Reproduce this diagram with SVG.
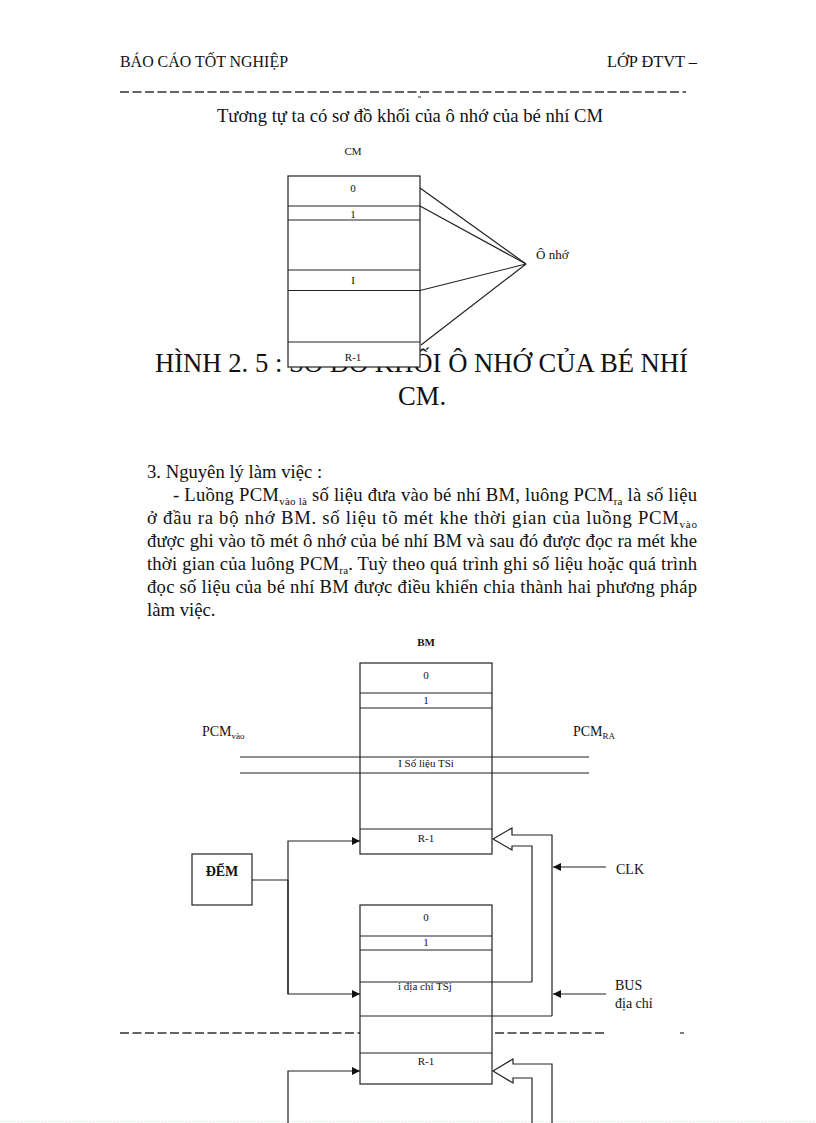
<svg xmlns="http://www.w3.org/2000/svg" width="816" height="1123" viewBox="0 0 816 1123">
<defs>
<style>
.t{font-family:"Liberation Serif","Times New Roman",serif;fill:#111}
.s{font-family:"Liberation Serif","Times New Roman",serif;fill:#111;font-size:11px;text-anchor:middle}
.box{fill:#fff;stroke:#222;stroke-width:1.2}
.ln{fill:none;stroke:#222;stroke-width:1.2}
.dash{fill:none;stroke:#333;stroke-width:1.3;stroke-dasharray:9 3.5}
</style>
<marker id="ah" viewBox="0 0 10 10" refX="10" refY="5" markerWidth="8" markerHeight="8" markerUnits="userSpaceOnUse" orient="auto">
<path d="M0,0 L10,5 L0,10 z" fill="#111"/>
</marker>
</defs>
<rect width="816" height="1123" fill="#fff"/>

<g id="header">
<text class="t" x="120" y="67" font-size="16" textLength="168" lengthAdjust="spacingAndGlyphs">BÁO CÁO TỐT NGHIỆP</text>
<text class="t" x="607" y="67" font-size="16" textLength="90" lengthAdjust="spacingAndGlyphs">LỚP ĐTVT –</text>
<line class="dash" x1="120" y1="92" x2="686" y2="92"/>
<line x1="418" y1="97" x2="421" y2="97" stroke="#333" stroke-width="1"/>
</g>

<text class="t" x="410" y="122" font-size="18.67" text-anchor="middle">Tương tự ta có sơ đồ khối của ô nhớ của bé nhí CM</text>

<!-- caption (partly hidden under CM box, as in the reference) -->
<g id="caption">
<text class="t" x="155" y="372" font-size="26.67" textLength="533" lengthAdjust="spacingAndGlyphs">HÌNH 2. 5 : SƠ ĐỒ KHỐI Ô NHỚ CỦA BÉ NHÍ</text>
<text class="t" x="422" y="405" font-size="26.67" text-anchor="middle">CM.</text>
</g>

<g id="cm-memory">
<text class="s" x="353" y="155">CM</text>
<rect class="box" x="288" y="176" width="132" height="191"/>
<line class="ln" x1="288" y1="206" x2="420" y2="206"/>
<line class="ln" x1="288" y1="220" x2="420" y2="220"/>
<line class="ln" x1="288" y1="270" x2="420" y2="270"/>
<line class="ln" x1="288" y1="290.5" x2="420" y2="290.5"/>
<line class="ln" x1="288" y1="342" x2="420" y2="342"/>
<text class="s" x="353" y="192">0</text>
<text class="s" x="353" y="218">1</text>
<text class="s" x="353" y="284">I</text>
<text class="s" x="353" y="361">R-1</text>
</g>
<g id="cm-fan">
<line class="ln" x1="420" y1="188" x2="526" y2="264"/>
<line class="ln" x1="420" y1="206" x2="526" y2="264"/>
<line class="ln" x1="420" y1="290.5" x2="526" y2="264"/>
<line class="ln" x1="421" y1="345" x2="526" y2="264"/>
</g>
<text id="o-nho" class="t" x="536" y="259" font-size="13">Ô nhớ</text>

<g id="paragraph">
<text class="t" x="147" y="478" font-size="18.67">3. Nguyên lý làm việc :</text>
<text class="t" x="173" y="501" font-size="18.67" textLength="524" lengthAdjust="spacing">- Luồng PCM<tspan font-size="11" dy="4">vào là</tspan><tspan dy="-4"> số liệu  đưa vào bé nhí BM, luông PCM</tspan><tspan font-size="11" dy="4">ra</tspan><tspan dy="-4"> là số liệu</tspan></text>
<text class="t" x="147" y="524" font-size="18.67" textLength="550" lengthAdjust="spacing">ở đầu ra bộ nhớ BM. số liệu  tõ mét khe thời gian của luồng PCM<tspan font-size="11" dy="4">vào</tspan></text>
<text class="t" x="147" y="547" font-size="18.67" textLength="550" lengthAdjust="spacing">được ghi vào tõ mét ô nhớ của bé nhí BM và sau đó được đọc ra mét khe</text>
<text class="t" x="147" y="570" font-size="18.67" textLength="550" lengthAdjust="spacing">thời gian của luông PCM<tspan font-size="11" dy="4">ra</tspan><tspan dy="-4">. Tuỳ theo quá trình ghi số liệu hoặc quá trình</tspan></text>
<text class="t" x="147" y="593" font-size="18.67" textLength="550" lengthAdjust="spacing">đọc số liệu  của bé nhí BM được điều khiển chia thành hai phương pháp</text>
<text class="t" x="147" y="616" font-size="18.67">làm việc.</text>
</g>

<g id="footer">
<line class="dash" x1="120" y1="1033" x2="604" y2="1033"/>
<line x1="680" y1="1033" x2="684" y2="1033" stroke="#333" stroke-width="1.3"/>
<line x1="0" y1="1121.5" x2="816" y2="1121.5" stroke="#b8ecb8" stroke-width="1" stroke-dasharray="1 2"/>
</g>

<g id="bm-memory">
<text class="s" x="426" y="646" font-weight="bold">BM</text>
<rect class="box" x="360" y="663" width="132" height="191"/>
<line class="ln" x1="360" y1="693" x2="492" y2="693"/>
<line class="ln" x1="360" y1="708" x2="492" y2="708"/>
<line class="ln" x1="360" y1="829" x2="492" y2="829"/>
<text class="s" x="426" y="679">0</text>
<text class="s" x="426" y="704">1</text>
<text class="s" x="426" y="767" font-size="12">I Số liệu TSi</text>
<text class="s" x="426" y="842">R-1</text>
</g>

<g id="pcm-labels">
<text class="t" x="202" y="736" font-size="14">PCM<tspan font-size="9" dy="3">vào</tspan></text>
<text class="t" x="573" y="736" font-size="14">PCM<tspan font-size="9" dy="3">RA</tspan></text>
</g>

<g id="addr-memory">
<rect class="box" x="360" y="905" width="132" height="179"/>
<line class="ln" x1="360" y1="936" x2="492" y2="936"/>
<line class="ln" x1="360" y1="950" x2="492" y2="950"/>
<line class="ln" x1="360" y1="982" x2="532" y2="982"/>
<line class="ln" x1="360" y1="1016" x2="552" y2="1016"/>
<line class="ln" x1="360" y1="1053" x2="492" y2="1053"/>
<text class="s" x="426" y="921">0</text>
<text class="s" x="426" y="946">1</text>
<text class="s" x="425" y="990" font-size="12">i địa chỉ TSj</text>
<text class="s" x="426" y="1065">R-1</text>
</g>

<g id="dem">
<rect class="box" x="192" y="854" width="60" height="51"/>
<text class="t" x="222" y="876" font-size="14" font-weight="bold" text-anchor="middle">ĐẾM</text>
</g>

<g id="side-labels">
<text class="t" x="616" y="874" font-size="14">CLK</text>
<text class="t" x="615" y="990" font-size="14">BUS</text>
<text class="t" x="615" y="1008" font-size="14">địa chỉ</text>
</g>

<g id="connectors">
<line class="ln" x1="240" y1="757" x2="589" y2="757"/>
<line class="ln" x1="240" y1="773" x2="589" y2="773"/>
<polyline class="ln" points="252,880 288,880"/>
<polyline class="ln" points="288,994 288,841 360,841" marker-end="url(#ah)"/>
<polyline class="ln" points="288,880 288,994 360,994" marker-end="url(#ah)"/>
<polyline class="ln" points="288,1123 288,1071 360,1071" marker-end="url(#ah)"/>
<line class="ln" x1="606" y1="867" x2="553" y2="867" marker-end="url(#ah)"/>
<line class="ln" x1="606" y1="994" x2="553" y2="994" marker-end="url(#ah)"/>
<polyline class="ln" points="552,1016 552,835 512,835 512,828 493,839 512,850 512,846 532,846 532,982"/>
<polyline class="ln" points="552,1123 552,1064 513,1064 513,1059 493,1071 513,1083 513,1078 532,1078 532,1123"/>
</g>
</svg>
